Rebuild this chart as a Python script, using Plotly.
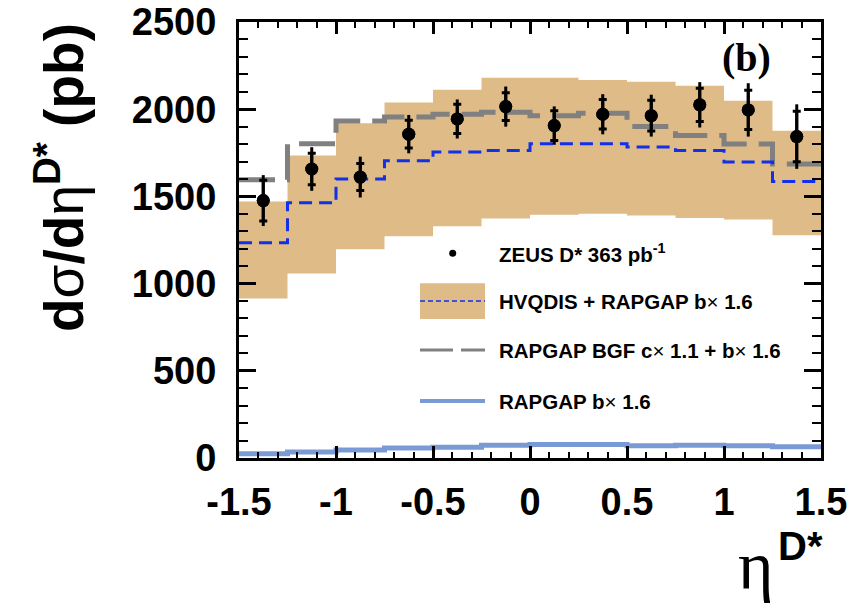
import plotly.graph_objects as go

# Binning in eta(D*)
bin_edges = [-1.5, -1.25, -1.0, -0.75, -0.5, -0.25, 0.0, 0.25, 0.5, 0.75, 1.0, 1.25, 1.5]
eta_centres = [-1.375, -1.125, -0.875, -0.625, -0.375, -0.125,
               0.125, 0.375, 0.625, 0.875, 1.125, 1.375]

# ZEUS D* measurement (pb)
zeus_xsec = [1476, 1657, 1611, 1857, 1944, 2015, 1906, 1971, 1963, 2025, 1996, 1843]
zeus_stat = [117, 90, 77, 80, 84, 80, 85, 85, 88, 95, 112, 145]
zeus_total = [146, 125, 117, 110, 112, 115, 110, 115, 120, 130, 153, 185]

# HVQDIS + RAPGAP b x 1.6: central value and uncertainty band
hvqdis_central = [1234, 1463, 1600, 1705, 1754, 1763, 1802, 1802, 1783, 1763, 1697, 1586]
hvqdis_upper = [1471, 1734, 1919, 2039, 2111, 2181, 2181, 2168, 2157, 2134, 2048, 1877]
hvqdis_lower = [915, 1058, 1197, 1271, 1329, 1373, 1395, 1401, 1391, 1376, 1367, 1277]

# RAPGAP BGF c x 1.1 + b x 1.6
rapgap_bgf = [1596, 1802, 1933, 1955, 1971, 1983, 1963, 1977, 1901, 1849, 1800, 1686]

# RAPGAP b x 1.6
rapgap_b = [25, 35, 46, 58, 62, 73, 77, 77, 70, 73, 70, 64]

# Axis ticks
x_tickvals = [-1.5, -1.0, -0.5, 0.0, 0.5, 1.0, 1.5]
x_ticktext = ["-1.5", "-1", "-0.5", "0", "0.5", "1", "1.5"]
y_tickvals = [0, 500, 1000, 1500, 2000, 2500]
y_ticktext = ["0", "500", "1000", "1500", "2000", "2500"]

TAN = "#DEBB87"
BLUE = "#1230E8"
GREY = "#808080"
LIGHTBLUE = "#7A9AD5"

W, H = 863, 607
ML, MR, MT, MB = 239, 42, 22, 149
PW, PH = W - ML - MR, H - MT - MB


def px(x):
    return (x - ML) / PW


def py(y):
    return (H - MB - y) / PH


def hist(vals):
    # histogram outline: one value per bin, repeated at the last edge
    return list(vals) + [vals[-1]]


fig = go.Figure()

fig.add_trace(go.Scatter(x=bin_edges, y=hist(hvqdis_lower), mode="lines",
                         line=dict(width=0, shape="hv", color=TAN),
                         hoverinfo="skip", showlegend=False))
fig.add_trace(go.Scatter(x=bin_edges, y=hist(hvqdis_upper), mode="lines",
                         line=dict(width=0, shape="hv", color=TAN),
                         fill="tonexty", fillcolor=TAN,
                         hoverinfo="skip", showlegend=False))
fig.add_trace(go.Scatter(x=bin_edges, y=hist(rapgap_b), mode="lines",
                         line=dict(width=5, shape="hv", color=LIGHTBLUE),
                         showlegend=False))
fig.add_trace(go.Scatter(x=bin_edges, y=hist(rapgap_bgf), mode="lines",
                         line=dict(width=5, shape="hv", color=GREY, dash="36px,12px"),
                         showlegend=False))
fig.add_trace(go.Scatter(x=bin_edges, y=hist(hvqdis_central), mode="lines",
                         line=dict(width=3, shape="hv", color=BLUE, dash="13px,7px"),
                         showlegend=False))
fig.add_trace(go.Scatter(x=eta_centres, y=zeus_xsec, mode="markers",
                         marker=dict(size=13, color="black"),
                         error_y=dict(type="data", array=zeus_total, width=0,
                                      thickness=3, color="black"),
                         showlegend=False))
fig.add_trace(go.Scatter(x=eta_centres, y=zeus_xsec, mode="markers",
                         marker=dict(size=13, color="black"),
                         error_y=dict(type="data", array=zeus_stat, width=4,
                                      thickness=3, color="black"),
                         showlegend=False))

tickfont = dict(family="Liberation Sans", size=38, color="black", weight="bold")

fig.update_xaxes(range=[-1.5, 1.5], tickvals=x_tickvals, ticktext=x_ticktext,
                 ticks="inside", ticklen=12, tickwidth=2.5, tickcolor="black",
                 minor=dict(ticks="inside", dtick=0.1, tick0=-1.5, ticklen=6,
                            tickwidth=2, tickcolor="black"),
                 showline=True, linewidth=3, linecolor="black", mirror="allticks",
                 showgrid=False, zeroline=False, tickfont=tickfont,
                 ticklabelstandoff=8, automargin=False)
fig.update_yaxes(range=[0, 2500], tickvals=y_tickvals, ticktext=y_ticktext,
                 ticks="inside", ticklen=17, tickwidth=2.5, tickcolor="black",
                 minor=dict(ticks="inside", dtick=100, tick0=0, ticklen=9,
                            tickwidth=2, tickcolor="black"),
                 showline=True, linewidth=3, linecolor="black", mirror="allticks",
                 showgrid=False, zeroline=False, tickfont=tickfont,
                 ticklabelstandoff=12, automargin=False)

shapes = []
annotations = []
legend_font = dict(family="Liberation Sans", size=20.5, color="black", weight="bold")
NB = "<span style='font-weight:normal'>\u00d7</span>"

# legend: data marker
shapes.append(dict(type="circle", xref="paper", yref="paper",
                   x0=px(449.2), x1=px(456.2), y0=py(256.8), y1=py(249.8),
                   fillcolor="black", line=dict(width=0)))
annotations.append(dict(text="ZEUS D* 363 pb<sup>-1</sup>", x=px(497), y=py(253),
                        xref="paper", yref="paper", xanchor="left", yanchor="middle",
                        showarrow=False, font=legend_font))
# legend: band with dashed central line
shapes.append(dict(type="rect", xref="paper", yref="paper",
                   x0=px(420), x1=px(485), y0=py(319), y1=py(283.3),
                   fillcolor=TAN, line=dict(width=0)))
shapes.append(dict(type="line", xref="paper", yref="paper",
                   x0=px(420), x1=px(485), y0=py(301), y1=py(301),
                   line=dict(color=BLUE, width=1.5, dash="5px,3px")))
annotations.append(dict(text="HVQDIS + RAPGAP b" + NB + " 1.6", x=px(497), y=py(301.5),
                        xref="paper", yref="paper", xanchor="left", yanchor="middle",
                        showarrow=False, font=legend_font))
# legend: RAPGAP BGF
shapes.append(dict(type="line", xref="paper", yref="paper",
                   x0=px(420), x1=px(485), y0=py(350), y1=py(350),
                   line=dict(color=GREY, width=3, dash="33px,8px")))
annotations.append(dict(text="RAPGAP BGF c" + NB + " 1.1 + b" + NB + " 1.6",
                        x=px(497), y=py(350.5),
                        xref="paper", yref="paper", xanchor="left", yanchor="middle",
                        showarrow=False, font=legend_font))
# legend: RAPGAP b
shapes.append(dict(type="line", xref="paper", yref="paper",
                   x0=px(420), x1=px(485), y0=py(401), y1=py(401),
                   line=dict(color=LIGHTBLUE, width=4)))
annotations.append(dict(text="RAPGAP b" + NB + " 1.6", x=px(497), y=py(401.5),
                        xref="paper", yref="paper", xanchor="left", yanchor="middle",
                        showarrow=False, font=legend_font))

# panel label
annotations.append(dict(text="<b>(b)</b>", x=px(746.5), y=py(57),
                        xref="paper", yref="paper", xanchor="center", yanchor="middle",
                        showarrow=False,
                        font=dict(family="Liberation Serif", size=40, color="black")))

# y-axis title
annotations.append(dict(
    text="d<span style='font-weight:normal'>\u03c3</span>/d"
         "<span style='font-weight:normal'>\u03b7</span><sup>D*</sup> (pb)",
    x=px(60), y=py(178), xref="paper", yref="paper",
    xanchor="center", yanchor="middle", textangle=-90, showarrow=False,
    font=dict(family="Liberation Sans", size=55, color="black", weight="bold")))

# x-axis title
annotations.append(dict(text="\u03b7", x=px(756), y=py(566), xref="paper", yref="paper",
                        xanchor="center", yanchor="middle", showarrow=False,
                        font=dict(family="Liberation Serif", size=68, color="black")))
annotations.append(dict(text="D*", x=px(800), y=py(546), xref="paper", yref="paper",
                        xanchor="center", yanchor="middle", showarrow=False,
                        font=dict(family="Liberation Sans", size=40, color="black",
                                  weight="bold")))

fig.update_layout(width=W, height=H,
                  margin=dict(l=ML, r=MR, t=MT, b=MB, pad=0),
                  paper_bgcolor="white", plot_bgcolor="white",
                  shapes=shapes, annotations=annotations, showlegend=False)

fig.write_html("out.html")
